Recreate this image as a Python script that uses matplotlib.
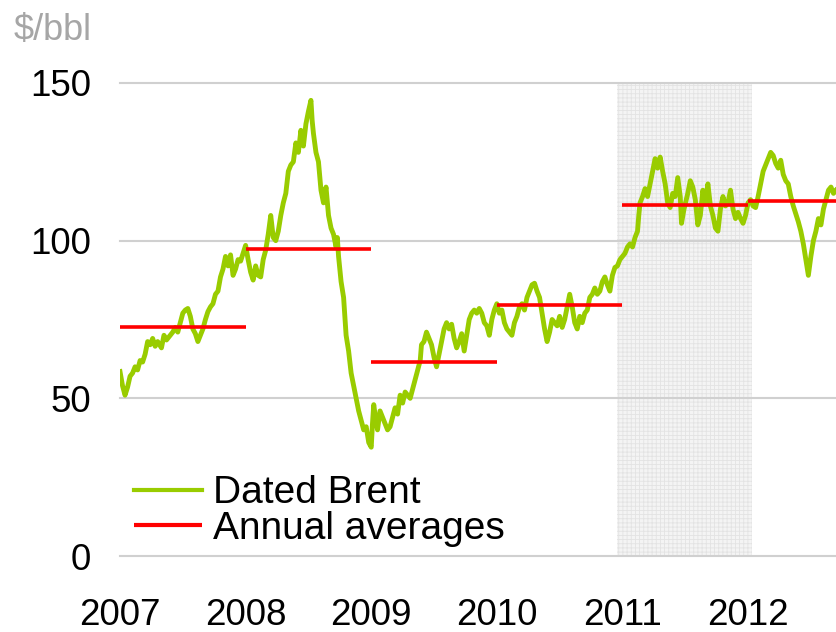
import numpy as np
import matplotlib
matplotlib.use('Agg')
import matplotlib.pyplot as plt

# Dated Brent, $/bbl (fractional years)
brent_t = [
    2007.00, 2007.02, 2007.04, 2007.06, 2007.08, 2007.10, 2007.12, 2007.14, 2007.16, 2007.18,
    2007.20, 2007.22, 2007.24, 2007.26, 2007.28, 2007.30, 2007.33, 2007.35, 2007.37, 2007.40,
    2007.42, 2007.44, 2007.46, 2007.48, 2007.50, 2007.52, 2007.54, 2007.56, 2007.58, 2007.60,
    2007.62, 2007.64, 2007.66, 2007.68, 2007.70, 2007.72, 2007.74, 2007.76, 2007.78, 2007.80,
    2007.82, 2007.84, 2007.86, 2007.88, 2007.90, 2007.92, 2007.94, 2007.96, 2007.98, 2008.00,
    2008.02, 2008.04, 2008.06, 2008.08, 2008.10, 2008.12, 2008.14, 2008.16, 2008.18, 2008.20,
    2008.22, 2008.24, 2008.26, 2008.28, 2008.30, 2008.32, 2008.34, 2008.36, 2008.38, 2008.40,
    2008.42, 2008.44, 2008.46, 2008.48, 2008.50, 2008.52, 2008.53, 2008.54, 2008.56, 2008.58,
    2008.60, 2008.62, 2008.64, 2008.66, 2008.68, 2008.70, 2008.72, 2008.73, 2008.74, 2008.76,
    2008.78, 2008.80, 2008.82, 2008.84, 2008.86, 2008.88, 2008.90, 2008.92, 2008.94, 2008.96,
    2008.98, 2009.00, 2009.01, 2009.02, 2009.03, 2009.05, 2009.07, 2009.09, 2009.11, 2009.13,
    2009.15, 2009.17, 2009.19, 2009.21, 2009.23, 2009.25, 2009.27, 2009.29, 2009.31, 2009.33,
    2009.35, 2009.37, 2009.39, 2009.40, 2009.42, 2009.44, 2009.46, 2009.48, 2009.50, 2009.52,
    2009.54, 2009.56, 2009.58, 2009.60, 2009.62, 2009.64, 2009.66, 2009.68, 2009.70, 2009.72,
    2009.74, 2009.76, 2009.78, 2009.80, 2009.82, 2009.84, 2009.86, 2009.88, 2009.90, 2009.92,
    2009.94, 2009.96, 2009.98, 2010.00, 2010.02, 2010.04, 2010.06, 2010.08, 2010.10, 2010.12,
    2010.14, 2010.16, 2010.18, 2010.20, 2010.22, 2010.24, 2010.26, 2010.28, 2010.30, 2010.32,
    2010.34, 2010.36, 2010.38, 2010.40, 2010.42, 2010.44, 2010.46, 2010.48, 2010.50, 2010.52,
    2010.54, 2010.56, 2010.58, 2010.60, 2010.62, 2010.64, 2010.66, 2010.68, 2010.70, 2010.72,
    2010.74, 2010.76, 2010.78, 2010.80, 2010.82, 2010.84, 2010.86, 2010.88, 2010.90, 2010.92,
    2010.94, 2010.96, 2010.98, 2011.00, 2011.02, 2011.04, 2011.06, 2011.08, 2011.10, 2011.12,
    2011.13, 2011.14, 2011.16, 2011.18, 2011.20, 2011.22, 2011.24, 2011.26, 2011.28, 2011.30,
    2011.32, 2011.34, 2011.36, 2011.38, 2011.40, 2011.42, 2011.44, 2011.46, 2011.47, 2011.49,
    2011.52, 2011.54, 2011.56, 2011.58, 2011.60, 2011.62, 2011.64, 2011.66, 2011.68, 2011.70,
    2011.72, 2011.74, 2011.76, 2011.78, 2011.80, 2011.82, 2011.84, 2011.86, 2011.88, 2011.90,
    2011.92, 2011.94, 2011.96, 2011.98, 2012.00, 2012.02, 2012.04, 2012.06, 2012.08, 2012.10,
    2012.12, 2012.14, 2012.16, 2012.18, 2012.20, 2012.22, 2012.24, 2012.26, 2012.28, 2012.30,
    2012.32, 2012.34, 2012.36, 2012.38, 2012.40, 2012.42, 2012.44, 2012.46, 2012.48, 2012.50,
    2012.52, 2012.54, 2012.56, 2012.58, 2012.60, 2012.62, 2012.64, 2012.66, 2012.68, 2012.70,
]
brent_v = [
    58.5, 54, 51, 53.5, 57, 58, 60, 59, 62, 61.5,
    64, 68, 67, 69, 66.5, 68, 66, 70, 68.5, 70,
    71, 72.5, 71, 74, 77, 78, 78.5, 76, 72, 70.5,
    68, 70, 72, 75, 77.5, 79, 80, 83, 84, 88.5,
    91, 95, 92, 95.5, 89, 91, 94, 93.5, 96, 98.5,
    94, 90, 87.5, 92, 89, 88.5, 94, 97, 102, 108,
    101, 100, 103, 108, 112, 115, 122, 124, 125, 131,
    128, 135, 130, 137, 141, 144.5, 138, 134, 128, 125,
    116, 112, 117, 108, 104, 102, 98, 101, 95, 87,
    82, 70, 65, 58, 54, 50, 46, 43, 40, 41,
    36, 34.5, 42, 48, 45, 40, 46, 44, 42, 40,
    41, 44, 47, 45, 51, 48.5, 52, 51, 50, 53,
    56, 59, 62, 67, 68, 71, 69, 67, 63, 60,
    64, 68, 72, 74, 72, 73.5, 69, 66, 68, 70.5,
    65, 70, 75, 77, 78, 77, 78.5, 77, 74, 73,
    70, 75, 78, 80, 77, 78, 74, 72, 71, 70,
    74, 76, 79, 80, 78, 82, 84, 86, 86.5, 84,
    82, 77, 72, 68, 71, 75, 74, 73, 76, 72.5,
    75, 79, 83, 79, 74, 72, 76, 74, 77, 78,
    82, 83, 85, 83, 84, 87, 88.5, 86, 84, 89,
    91.5, 92, 94, 95, 96, 98, 99, 98, 101, 103,
    108, 112, 114, 116.5, 114, 118, 122, 126, 123, 126.5,
    122, 118, 112, 110.5, 115, 114, 120, 114, 105.5, 110,
    115, 119, 117, 113, 105, 108, 116, 112, 118, 111,
    108, 104, 103, 110, 114, 111, 112, 116, 110, 107,
    109, 107, 105.5, 108, 112, 113, 111, 110.5, 114, 118,
    122, 124, 126, 128, 127, 124.5, 123, 125.5, 121, 119,
    118, 114, 111, 108.5, 106, 103, 99, 94, 89, 95,
    100, 103, 107, 105, 110, 113, 116, 117, 115, 116,
]

years = [2007, 2008, 2009, 2010, 2011, 2012]
annual_avg = [72.5, 97.4, 61.6, 79.6, 111.3, 112.6]

yticks = [0, 50, 100, 150]
shade_start, shade_end = 2010.96, 2012.03

green = '#99cc00'
red = '#ff0000'

plt.rcParams['font.family'] = ['Liberation Sans', 'DejaVu Sans']
plt.rcParams['hatch.linewidth'] = 0.6

fig = plt.figure(figsize=(8.36, 6.32), dpi=100)
ax = fig.add_axes([120 / 836, 1 - 556 / 632, 1 - 120 / 836, (556 - 83) / 632])

# shaded 2011 band
ax.axvspan(shade_start, shade_end, facecolor='#f4f4f4', edgecolor='#e3e3e3',
           hatch='++++', lw=0, zorder=0)

for v in yticks:
    ax.axhline(v, color='#d0d0d0', lw=1.5, zorder=1, clip_on=False)

ax.plot(brent_t, brent_v, color=green, lw=3.5, zorder=3, label='Dated Brent',
        solid_joinstyle='round')
ax.hlines(annual_avg, years, [y + 1 for y in years], color=red, lw=2.6,
          zorder=4, label='Annual averages')

ax.set_xlim(2007, 2012.70)
ax.set_ylim(0, 150)
ax.set_yticks(yticks)
ax.set_xticks(years)
ax.set_xticklabels([str(y) for y in years])
ax.tick_params(axis='both', length=0, labelsize=26.5)
ax.tick_params(axis='y', pad=21)
ax.tick_params(axis='x', pad=30)
for s in ax.spines.values():
    s.set_visible(False)

leg = ax.legend(loc='center left', bbox_to_anchor=(0.0, 0.095), frameon=False,
                fontsize=28, handlelength=1.75, handletextpad=0.3,
                labelspacing=-0.02, borderpad=0, borderaxespad=0.35)
for h in leg.get_lines():
    h.set_linewidth(3)

fig.text(14 / 836, 1 - 30 / 632, '$/bbl', color='#a6a6a6', fontsize=26, va='center')

fig.savefig('out.png', dpi=100)
